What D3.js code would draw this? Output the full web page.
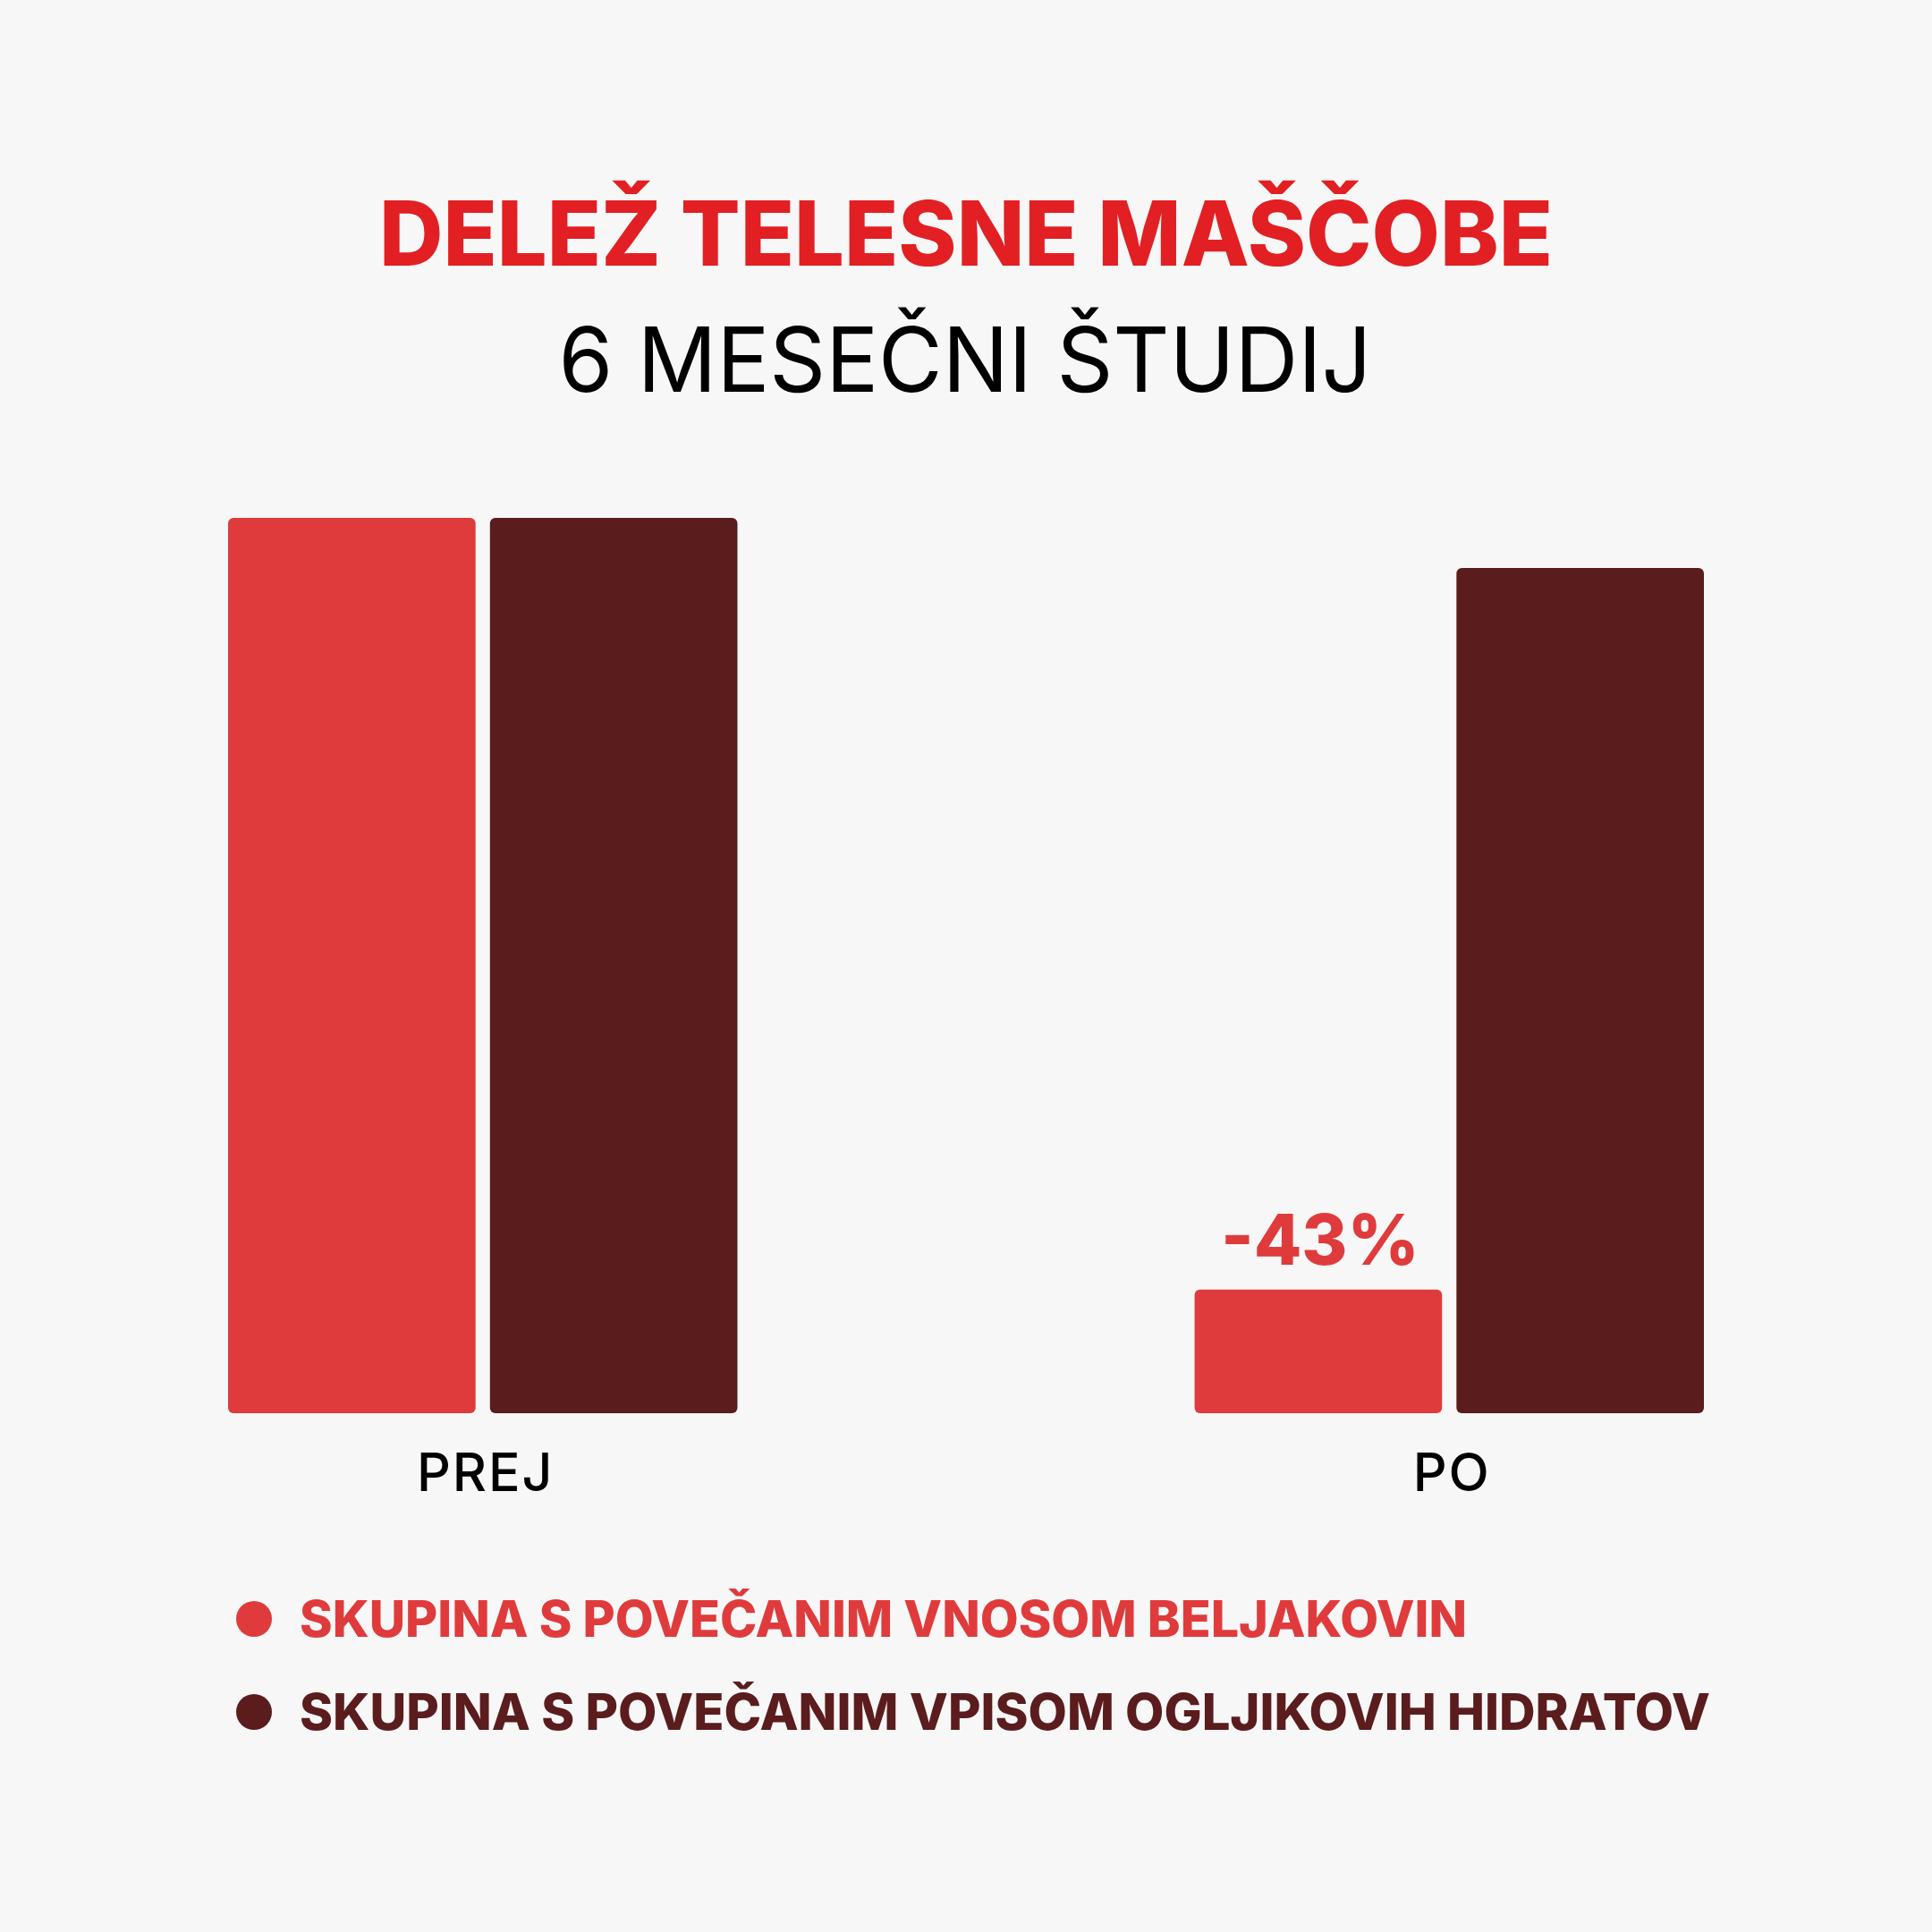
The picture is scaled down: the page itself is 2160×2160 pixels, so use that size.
<!DOCTYPE html>
<html>
<head>
<meta charset="utf-8">
<script src="https://cdn.jsdelivr.net/npm/d3@7"></script>
<style>
  html, body { margin: 0; padding: 0; background: #f7f7f7; }
  text { font-family: Inter, "Noto Sans", sans-serif; }
</style>
</head>
<body>
<div id="chart"></div>
<script>
const width = 2160
const height = 2160

// data
const categories = ["PREJ", "PO"]
const groups = ["beljakovine", "ogljikovi"]
const proteinValues = [100, 13.8]
const carbValues = [100, 94.4]
const changeLabels = ["", "-43%"]
const legendLabels = [
  "SKUPINA S POVEČANIM VNOSOM BELJAKOVIN",
  "SKUPINA S POVEČANIM VPISOM OGLJIKOVIH HIDRATOV"
]
const colors = ["#e03b3c", "#5b1c1e"]

const rows = categories.map((c, i) => ({
  cat: c,
  label: changeLabels[i],
  values: [proteinValues[i], carbValues[i]]
}))

const svg = d3.select("#chart")
  .append("svg")
  .attr("width", width)
  .attr("height", height)

svg.append("rect")
  .attr("width", width)
  .attr("height", height)
  .attr("fill", "#f7f7f7")

// titles
svg.append("text")
  .attr("x", 1080).attr("y", 297)
  .attr("text-anchor", "middle")
  .attr("font-size", 100)
  .attr("font-weight", 800)
  .attr("fill", "#e21f23")
  .attr("textLength", 1312)
  .attr("lengthAdjust", "spacingAndGlyphs")
  .text("DELEŽ TELESNE MAŠČOBE")

svg.append("text")
  .attr("x", 1079).attr("y", 438)
  .attr("text-anchor", "middle")
  .attr("font-size", 100)
  .attr("font-weight", 400)
  .attr("fill", "#000")
  .attr("textLength", 909)
  .attr("lengthAdjust", "spacingAndGlyphs")
  .text("6 MESEČNI ŠTUDIJ")

// scales
const x0 = d3.scaleBand()
  .domain(categories)
  .range([255, 1905])
  .paddingInner(0.473)

const x1 = d3.scaleBand()
  .domain(groups)
  .range([0, x0.bandwidth()])
  .paddingInner(0.055)

const y = d3.scaleLinear()
  .domain([0, 100])
  .range([1580, 579])

const g = svg.append("g")

const cat = g.selectAll("g.cat")
  .data(rows)
  .join("g")
  .attr("class", "cat")
  .attr("transform", d => "translate(" + x0(d.cat) + ",0)")

cat.selectAll("rect")
  .data(d => d.values.map((v, i) => ({ key: groups[i], v, i })))
  .join("rect")
  .attr("x", d => x1(d.key))
  .attr("y", d => y(d.v))
  .attr("width", x1.bandwidth())
  .attr("height", d => y(0) - y(d.v))
  .attr("rx", 6)
  .attr("fill", d => colors[d.i])

// change label above protein bar
cat.append("text")
  .attr("x", x1("beljakovine") + x1.bandwidth() / 2 + 2)
  .attr("y", d => y(d.values[0]) - 28)
  .attr("text-anchor", "middle")
  .attr("font-size", 78)
  .attr("font-weight", 800)
  .attr("fill", colors[0])
  .text(d => d.label)

// x axis labels
const xAxis = d3.axisBottom(x0).tickSize(0).tickPadding(0)
svg.append("g")
  .attr("transform", "translate(0,1667)")
  .call(xAxis)
  .call(a => a.select(".domain").remove())
  .call(a => a.selectAll("text")
    .attr("dy", 0)
    .attr("dx", 3)
    .attr("font-size", 59)
    .attr("font-family", "Inter, sans-serif")
    .attr("font-weight", 500)
    .attr("letter-spacing", 2)
    .attr("fill", "#000"))

// legend
const legend = svg.append("g")
  .selectAll("g")
  .data(legendLabels)
  .join("g")
  .attr("transform", (d, i) => "translate(284," + (1810 + i * 104) + ")")

legend.append("circle")
  .attr("r", 20)
  .attr("fill", (d, i) => colors[i])

legend.append("text")
  .attr("x", 51)
  .attr("y", 20)
  .attr("font-size", 56)
  .attr("font-weight", 800)
  .attr("fill", (d, i) => colors[i])
  .attr("textLength", (d, i) => i === 0 ? 1305 : 1577)
  .attr("lengthAdjust", "spacingAndGlyphs")
  .text(d => d)
</script>
</body>
</html>
